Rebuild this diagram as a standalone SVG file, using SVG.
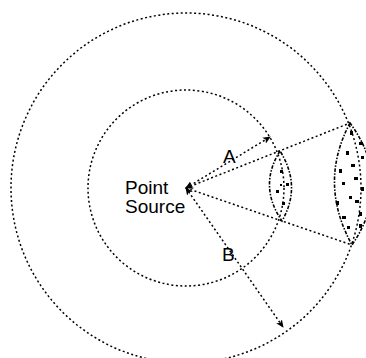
<svg xmlns="http://www.w3.org/2000/svg" width="366" height="358" viewBox="0 0 366 358">
<style>
.dot{fill:none;stroke:#000;stroke-width:1.5;stroke-dasharray:2 2.5}
.lens{fill:none;stroke:#000;stroke-width:1.6;stroke-dasharray:3.5 1.5 1.5 1.5}
.lbl{font-family:"Liberation Sans",Arial,sans-serif;font-size:19px;fill:#000}
.spk{fill:#000}
</style>
<defs>
<marker id="ah" markerWidth="8" markerHeight="7" refX="7" refY="3.5" orient="auto-start-reverse" markerUnits="userSpaceOnUse">
<path d="M0,0 L8,3.5 L0,7 L2,3.5 Z" fill="#000"/>
</marker>
</defs>
<rect width="366" height="358" fill="#fff"/>
<g id="outer-sphere"><circle class="dot" cx="186" cy="188" r="175"/></g>
<g id="inner-sphere"><circle class="dot" cx="186" cy="188" r="98"/></g>
<g id="inner-area">
<path class="lens" d="M280,151 Q258,186 282,221 Q302,186 280,151 Z"/>
<rect class="spk" x="280" y="170" width="3" height="3"/>
<rect class="spk" x="286" y="183" width="3" height="3"/>
<rect class="spk" x="276" y="190" width="3" height="3"/>
<rect class="spk" x="282" y="202" width="3" height="3"/>
<rect class="spk" x="280" y="184" width="2" height="2"/>
</g>
<g id="outer-area">
<path class="lens" d="M350,123 Q318,183 352,245 Q394,183 350,123 Z"/>
<rect class="spk" x="350" y="131" width="3" height="4"/>
<rect class="spk" x="359" y="142" width="4" height="3"/>
<rect class="spk" x="346" y="151" width="3" height="4"/>
<rect class="spk" x="361" y="156" width="3" height="3"/>
<rect class="spk" x="351" y="164" width="4" height="3"/>
<rect class="spk" x="339" y="169" width="3" height="4"/>
<rect class="spk" x="354" y="177" width="4" height="3"/>
<rect class="spk" x="342" y="182" width="3" height="3"/>
<rect class="spk" x="361" y="187" width="3" height="4"/>
<rect class="spk" x="349" y="196" width="3" height="3"/>
<rect class="spk" x="355" y="200" width="4" height="3"/>
<rect class="spk" x="336" y="201" width="3" height="4"/>
<rect class="spk" x="342" y="216" width="4" height="3"/>
<rect class="spk" x="359" y="212" width="3" height="4"/>
<rect class="spk" x="347" y="226" width="3" height="3"/>
<rect class="spk" x="359" y="224" width="3" height="4"/>
</g>
<g id="connectors">
<line class="dot" x1="186" y1="188" x2="270" y2="137" marker-start="url(#ah)" marker-end="url(#ah)"/>
<line class="dot" x1="186" y1="188" x2="283" y2="327" marker-start="url(#ah)" marker-end="url(#ah)"/>
<line class="dot" x1="186" y1="188" x2="350" y2="123" marker-start="url(#ah)"/>
<line class="dot" x1="186" y1="188" x2="352" y2="245"/>
</g>
<g id="point-source">
<text class="lbl" x="125" y="194">Point</text>
<text class="lbl" x="125" y="213">Source</text>
</g>
<g id="label-a"><text class="lbl" x="223" y="163">A</text></g>
<g id="label-b"><text class="lbl" x="222" y="261">B</text></g>
</svg>
